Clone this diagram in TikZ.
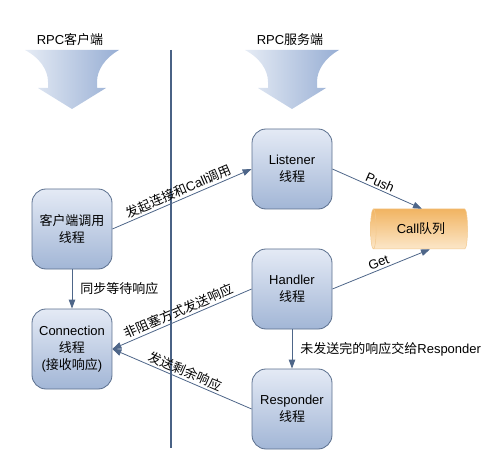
\documentclass[tikz,border=0pt]{standalone}
\usepackage{fontspec}
\setmainfont{Liberation Sans}
\newfontfamily\cjk{Noto Sans CJK SC}
\usetikzlibrary{arrows.meta, shapes.geometric, calc}

\definecolor{boxtop}{HTML}{E4EAF5}
\definecolor{boxbot}{HTML}{A2B6D6}
\definecolor{boxline}{HTML}{5B6F8E}
\definecolor{linkcol}{HTML}{4E6689}
\definecolor{divcol}{HTML}{4A6285}
\definecolor{funnell}{HTML}{E6ECF5}
\definecolor{funnelr}{HTML}{97AED4}
\definecolor{qtop}{HTML}{F1B462}
\definecolor{qbot}{HTML}{FCE7C9}
\definecolor{qedge}{HTML}{F3C98E}

\tikzset{
    thread/.style={draw=boxline, line width=0.8pt, rounded corners=14pt,
        top color=boxtop, bottom color=boxbot, minimum width=80pt,
        minimum height=80pt, align=center, inner sep=1pt,
        font=\fontsize{13}{17}\selectfont},
    queue/.style={cylinder, shape border rotate=180, shape aspect=0.4,
        minimum width=40pt, minimum height=97pt, top color=qtop,
        bottom color=qbot, draw=qedge, line width=0.5pt, inner sep=1pt,
        font=\fontsize{13}{17}\selectfont},
    link/.style={draw=linkcol, line width=0.8pt,
        -{Triangle[length=9pt,width=6.5pt]}},
    lbl/.style={font=\fontsize{13}{15}\selectfont, inner sep=2pt},
}

\begin{document}
\begin{tikzpicture}[x=1pt, y=-1pt]
    \useasboundingbox (0,0) rectangle (491,452);

    % Séparation client / serveur
    \draw[line width=1.6pt, divcol] (171,50) -- (171,448);

    % Titres et grosses flèches
    \foreach \cx/\titre in {72/{RPC{\cjk 客户端}}, 292/{RPC{\cjk 服务端}}} {
        \node[lbl] (titre\cx) at (\cx-2,40) {\titre};
        \shade[left color=funnell, right color=funnelr, shift={(\cx,50)}]
            (-47,0) .. controls (-32,8) and (-24,20) .. (-24,32) -- (-24,38)
            -- (-34,38) -- (0,59) -- (34,38) -- (25,38) -- (25,32)
            .. controls (25,20) and (33,8) .. (47,0) -- cycle;
    }

    % Threads
    \node[thread] (client) at (72,229) {{\cjk 客户端调用}\\{\cjk 线程}};
    \node[thread] (conn) at (72,349) {Connection\\{\cjk 线程}\\({\cjk 接收响应})};
    \node[thread] (listener) at (292,169) {Listener\\{\cjk 线程}};
    \node[thread] (handler) at (292,289) {Handler\\{\cjk 线程}};
    \node[thread] (responder) at (292,409) {Responder\\{\cjk 线程}};
    \node[queue] (queue) at (421,229) {Call{\cjk 队列}};

    % Liaisons
    \draw[link] (client.east) -- node[lbl, midway, above, sloped]
        {{\cjk 发起连接和}Call{\cjk 调用}} (listener.west);
    \draw[link] (listener.east) -- node[lbl, midway, above, sloped]
        {Push} ([xshift=1pt]queue.north);
    \draw[link] (handler.east) -- node[lbl, midway, above, sloped]
        {Get} ([xshift=9pt]queue.south);
    \draw[link] (handler.west) -- node[lbl, midway, above, sloped]
        {\cjk 非阻塞方式发送响应} (conn.east);
    \draw[link] (responder.west) -- node[lbl, midway, above, sloped]
        {\cjk 发送剩余响应} (conn.east);
    \draw[link] (client) -- node[lbl, right=6pt]
        {\cjk 同步等待响应} (conn);
    \draw[link] (handler) -- node[lbl, right=6pt]
        {{\cjk 未发送完的响应交给}Responder} (responder);
\end{tikzpicture}
\end{document}
